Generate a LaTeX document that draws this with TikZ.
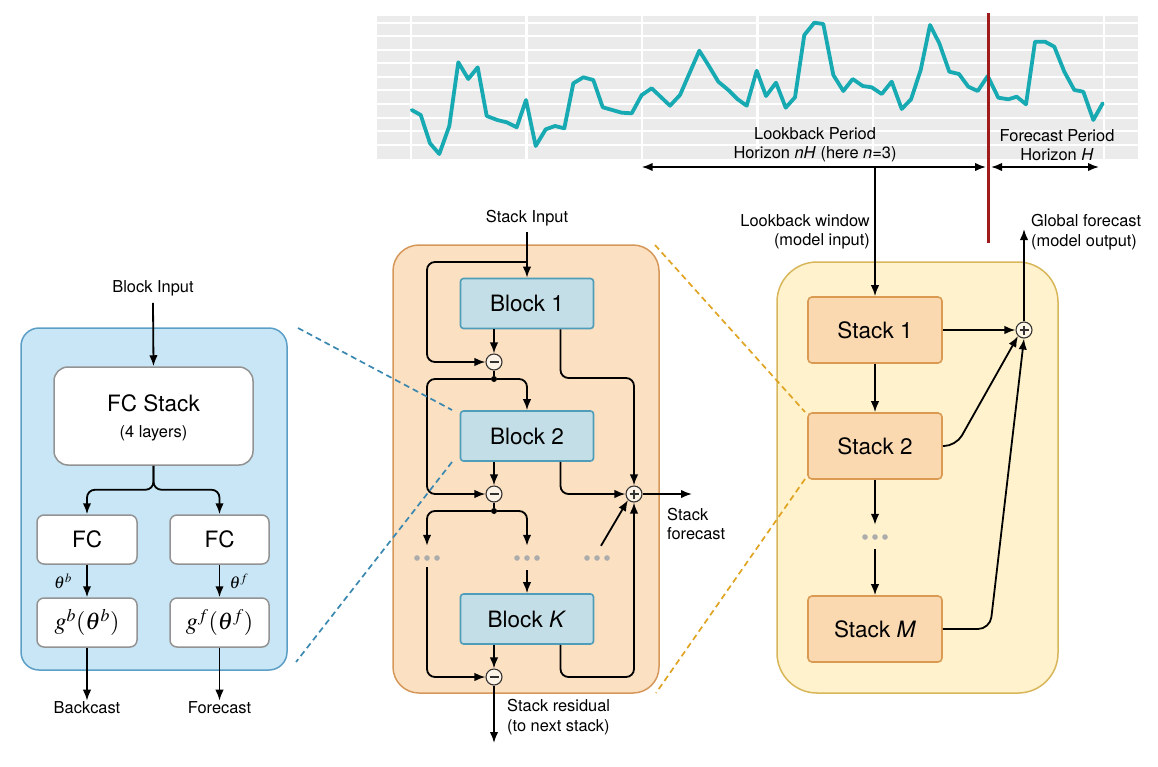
\documentclass[tikz,border=0pt]{standalone}
\usepackage{mathptmx}
\usepackage{fontspec}
\setmainfont{TeX Gyre Heros}
\usetikzlibrary{arrows.meta,calc}
\newcommand\labfs{\fontsize{16.4}{19.5}\selectfont}
\newcommand\boxfs{\fontsize{22.5}{26}\selectfont}
\definecolor{teal1}{HTML}{17AAB2}
\definecolor{gridbg}{HTML}{EBEBEB}
\definecolor{redl}{HTML}{A01C1C}
\definecolor{lpf}{HTML}{C8E6F5}
\definecolor{lpb}{HTML}{5C9FC6}
\definecolor{mpf}{HTML}{FCE0C2}
\definecolor{mpb}{HTML}{D5985A}
\definecolor{blkf}{HTML}{C3DEE6}
\definecolor{blkb}{HTML}{4F9DB8}
\definecolor{rpf}{HTML}{FFF2CC}
\definecolor{rpb}{HTML}{D8B65A}
\definecolor{stkf}{HTML}{FAD9B1}
\definecolor{stkb}{HTML}{DA9A52}
\definecolor{dashb}{HTML}{3A88B0}
\definecolor{dasho}{HTML}{E0A422}
\begin{document}
\begin{tikzpicture}[x=1pt,y=-1pt,
  arr/.style={line width=1.8pt,-{Latex[length=11pt,width=8.5pt]},rounded corners=8pt},
  ln/.style={line width=1.8pt,rounded corners=8pt},
  wbox/.style={draw=gray!85,line width=1.5pt,fill=white,rounded corners=7pt,inner sep=0pt},
  blk/.style={draw=blkb,fill=blkf,line width=1.6pt,rounded corners=3pt,minimum width=133pt,minimum height=50pt,font=\boxfs,inner sep=0pt},
  stk/.style={draw=stkb,fill=stkf,line width=1.6pt,rounded corners=4pt,minimum width=134pt,minimum height=66pt,font=\boxfs,inner sep=0pt},
  lab/.style={font=\labfs,inner sep=1pt},
  opc/.style={circle,draw=black!80,line width=1.1pt,minimum size=16pt,inner sep=0pt},
  minus/.style={opc,path picture={\draw[line width=1.1pt] ($(path picture bounding box.center)+(-4.5,0)$) -- ($(path picture bounding box.center)+(4.5,0)$);}},
  plus/.style={opc,path picture={\draw[line width=1.1pt] ($(path picture bounding box.center)+(-4.5,0)$) -- ($(path picture bounding box.center)+(4.5,0)$) ($(path picture bounding box.center)+(0,-4.5)$) -- ($(path picture bounding box.center)+(0,4.5)$);}},
  jdot/.style={circle,fill=black,inner sep=0pt,minimum size=6pt},
  dotsn/.style={minimum width=30pt,minimum height=24pt,inner sep=0pt,
    path picture={\fill[gray!65] (path picture bounding box.center) circle (2.8) ($(path picture bounding box.center)+(-10,0)$) circle (2.8) ($(path picture bounding box.center)+(10,0)$) circle (2.8);}},
  dsh/.style={line width=1.7pt,dash pattern=on 6pt off 4pt}
]
\useasboundingbox (0,0) rectangle (1158,766);

% ---------- chart ----------
\fill[gridbg] (377,16) rectangle (1138,159);
\foreach \yy in {22.7,36,49.5,63.2,76.8,90.3,104,117.5,131,145}
  \draw[white,line width=2pt] (377,\yy) -- (1138,\yy);
\foreach \xx in {411,526.5,642,757.5,873,988.5,1104}
  \draw[white,line width=2.4pt] (\xx,16) -- (\xx,161);
\draw[teal1,line width=3.8pt,line join=round,line cap=round] plot coordinates {
(411.7,110) (420.7,115) (430,143.3) (439.3,154) (449.3,126) (458.3,62.3) (468.3,79) (477.7,67.3) (486.7,116) (497.3,120) (506.7,122.3) (516.7,127.3) (526,100) (535.7,146) (545.7,129.3) (555,126) (564.3,128.3) (573.3,83.3) (583.3,77.3) (593.3,80) (602.7,107.3) (612.3,110) (621.7,112.7) (631.7,113.3) (641.7,95) (651.7,88.3) (670,105.7) (680,95) (699.3,50.7) (708.3,65) (718.3,81.7) (728.3,90) (737.7,99.3) (746.7,105.7) (756.7,70.7) (766,96) (776,82.7) (785.7,107.7) (795,97.3) (804.3,35) (814.3,22.7) (823.3,24) (833.3,75) (843.3,91) (852.7,79) (862.7,86) (871.7,87.3) (881.7,94) (891.7,81.7) (901.7,109) (911,99.3) (920.7,70) (930,25) (939.3,43.3) (949.3,71.7) (959,74) (968.3,86.7) (977.7,91) (987.7,76) (998.3,97.7) (1008.3,99.3) (1016.7,96.7) (1026,104.3) (1035,41.7) (1045,41.7) (1054.3,46.7) (1064.3,71.7) (1074.3,90) (1083.3,91.7) (1093.3,120) (1102.7,103.3)};

\node[lab,align=center] (lbtext) at (815,145) {Lookback Period\\Horizon \textit{nH} (here \textit{n}=3)};
\node[lab,align=center] (fctext) at (1057,145) {Forecast Period\\Horizon \textit{H}};
\coordinate (lbL) at (641.7,167);
\coordinate (lbR) at (986,167);
\coordinate (fcL) at (991,167);
\coordinate (fcR) at (1099,167);
\coordinate (lbk) at (875,167);
\draw[line width=1.8pt,{Latex[length=11pt,width=8.5pt]}-{Latex[length=11pt,width=8.5pt]}] (lbL) -- (lbR);
\draw[line width=1.8pt,{Latex[length=11pt,width=8.5pt]}-{Latex[length=11pt,width=8.5pt]}] (fcL) -- (fcR);
\coordinate (redT) at (988,13);
\coordinate (redB) at (988,243);
\draw[redl,line width=3pt] (redT) -- (redB);

% ---------- right panel ----------
\node[draw=rpb,fill=rpf,line width=1.5pt,rounded corners=40pt,minimum width=281pt,minimum height=431pt,inner sep=0pt] (rpanel) at (917.5,477.5) {};
\node[lab,align=right,anchor=east] (lbwin) at (871,232) {Lookback window\\(model input)};
\node[lab,align=left,anchor=west] (gfor) at (1030,232) {Global forecast\\(model output)};
\node[stk] (s1) at (875,330) {Stack 1};
\node[stk] (s2) at (875,446) {Stack 2};
\node[dotsn] (sdots) at (875,537) {};
\node[stk] (sM) at (875,629) {Stack \textit{M}};
\node[plus,fill=rpf!50!white] (gp) at (1024,330) {};
\coordinate (gftop) at (1024,229);
\draw[arr] (lbk) -- (s1);
\draw[arr] (s1) -- (s2);
\draw[arr] (s2) -- (sdots);
\draw[arr] (sdots) -- (sM);
\draw[arr] (s1) -- (gp);
\draw[arr,rounded corners=12pt] (s2.east) -- (956,446) -- (gp.south west);
\draw[arr,rounded corners=12pt] (sM.east) -- (990,629) -- (gp.south);
\draw[arr] (gp) -- (gftop);

% ---------- middle panel ----------
\node[draw=mpb,fill=mpf,line width=1.5pt,rounded corners=26pt,minimum width=266pt,minimum height=448pt,inner sep=0pt] (mpanel) at (526,469) {};
\node[lab] (stackin) at (527,218) {Stack Input};
\node[blk] (b1) at (527,303.5) {Block 1};
\node[blk] (b2) at (527,436) {Block 2};
\node[blk] (bK) at (527,619) {Block \textit{K}};
\node[minus,fill=mpf!40!white] (m1) at (494,362) {};
\node[minus,fill=mpf!40!white] (m2) at (494,494) {};
\node[minus,fill=mpf!40!white] (m3) at (494,677) {};
\node[plus,fill=mpf!40!white] (p1) at (634,494) {};
\node[jdot] (dot1) at (494,379) {};
\node[jdot] (dot2) at (494,511) {};
\node[dotsn] (dotsA) at (427,558) {};
\node[dotsn] (dotsB) at (527,558) {};
\node[dotsn] (dotsC) at (597,558) {};
\coordinate (split0) at (527,262);
\coordinate (sfend) at (692,494);
\coordinate (resid) at (494,743);
\node[lab,align=left,anchor=west] (sftext) at (666,524) {Stack\\forecast};
\node[lab,align=left,anchor=west] (srtext) at (506,717) {Stack residual\\(to next stack)};

\draw[arr] ([yshift=-5pt]stackin.south) -- (b1.north);
\draw[arr] (split0) -| ($(m1)+(-67,0)$) -- (m1);
\draw[arr] (b1.south -| m1) -- (m1);
\draw[arr] ($(b1.south)+(33.5,0)$) |- ($(p1)+(0,-116)$) -- (p1);
\draw[ln] (m1) -- (dot1);
\draw[arr] (dot1) -| (b2.north);
\draw[arr] (dot1) -| ($(m2)+(-67,0)$) -- (m2);
\draw[arr] (b2.south -| m2) -- (m2);
\draw[arr] ($(b2.south)+(33.5,0)$) |- (p1);
\draw[ln] (m2) -- (dot2);
\draw[arr] (dot2) -| (dotsA.north);
\draw[arr] (dot2) -| (dotsB.north);
\draw[arr] ([yshift=3pt]dotsA.south) |- (m3);
\draw[arr] (dotsB.south) -- (bK.north);
\draw[arr] ($(dotsC.north)+(4,0)$) -- (p1.south west);
\draw[arr] (bK.south -| m3) -- (m3);
\draw[arr] ($(bK.south)+(33.5,0)$) |- ($(p1)+(0,183)$) -- (p1);
\draw[arr] (p1) -- (sfend);
\draw[arr] (m3) -- (resid);

% ---------- left panel ----------
\node[draw=lpb,fill=lpf,line width=1.5pt,rounded corners=18pt,minimum width=266pt,minimum height=342pt,inner sep=0pt] (lpanel) at (154,499) {};
\node[lab] (bin) at (153,288) {Block Input};
\node[wbox,rounded corners=14pt,minimum width=199pt,minimum height=98pt] (fcstack) at (153.5,416) {};
\node[font=\boxfs,inner sep=0pt] (fct1) at (153.5,403) {FC Stack};
\node[lab] (fct2) at (153.5,433) {(4 layers)};
\node[wbox,minimum width=100pt,minimum height=49pt,font=\boxfs] (fcb) at (87,539.5) {FC};
\node[wbox,minimum width=99pt,minimum height=49pt,font=\boxfs] (fcf) at (219.5,539.5) {FC};
\node[wbox,minimum width=100pt,minimum height=49pt] (gb) at (87,622.5) {\fontsize{24}{28}\selectfont $g^b(\theta^b)$};
\node[wbox,minimum width=99pt,minimum height=49pt] (gf) at (219.5,622.5) {\fontsize{24}{28}\selectfont $g^f(\theta^f)$};
\node[inner sep=0pt] (thb) at (63,581) {\fontsize{17}{20}\selectfont $\theta^b$};
\node[inner sep=0pt] (thf) at (239,581) {\fontsize{17}{20}\selectfont $\theta^f$};
\node[lab] (bc) at (87,708) {Backcast};
\node[lab] (fo) at (219.5,708) {Forecast};
\draw[arr] ([yshift=-6pt]bin.south) -- (fcstack.north);
\draw[arr] (fcstack.south) -- ++(0,24) -| (fcb.north);
\draw[arr] (fcstack.south) -- ++(0,24) -| (fcf.north);
\draw[arr] (fcb) -- (gb);
\draw[arr] (fcf) -- (gf);
\draw[arr] (gb) -- (bc);
\draw[arr] (gf) -- (fo);

% ---------- dashed zoom lines ----------
\draw[dsh,dashb] (298,328) -- (452,410);
\draw[dsh,dashb] (452,462) -- (296,662);
\draw[dsh,dasho] (655,245) -- (805,412);
\draw[dsh,dasho] (805,479) -- (656,693);
\end{tikzpicture}
\end{document}
